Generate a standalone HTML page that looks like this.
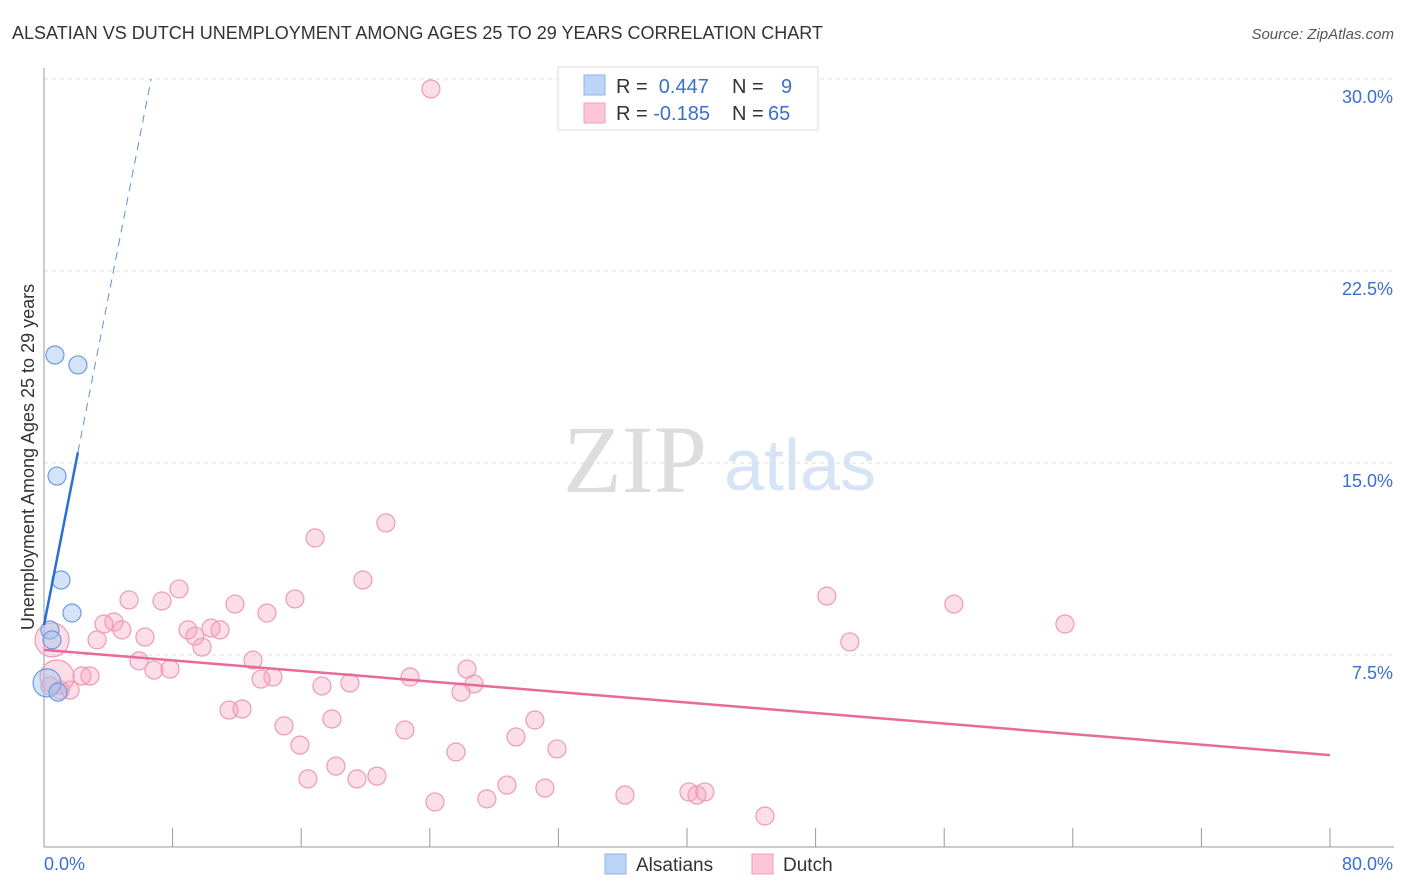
<!DOCTYPE html>
<html><head><meta charset="utf-8"><style>
body{margin:0;background:#fff;font-family:"Liberation Sans",sans-serif}
svg{display:block}
</style></head><body>
<svg id="c" width="1406" height="892" font-family="Liberation Sans, sans-serif">
<text x="12" y="39" font-size="18" fill="#333">ALSATIAN VS DUTCH UNEMPLOYMENT AMONG AGES 25 TO 29 YEARS CORRELATION CHART</text>
<text x="1394" y="39" font-size="15" fill="#555" font-style="italic" text-anchor="end">Source: ZipAtlas.com</text>
<text x="635" y="492" font-size="96" fill="#ddd" font-family="Liberation Serif, serif" text-anchor="middle">ZIP</text>
<text x="800" y="490" font-size="72" fill="#d6e4f5" text-anchor="middle">atlas</text>
<text transform="translate(34,457) rotate(-90)" font-size="18" fill="#333" text-anchor="middle">Unemployment Among Ages 25 to 29 years</text>
<g id="grid"></g><g id="axes"></g><g id="pts"></g><g id="lines"></g>
<g>
<rect x="558" y="67" width="260" height="63" fill="#fff" stroke="#ddd"/>
<rect x="584" y="75" width="21" height="20" fill="#bcd4f5" stroke="#8fb3ea"/>
<rect x="584" y="103" width="21" height="20" fill="#fcc6d6" stroke="#f0a0b8"/>
<text x="616" y="93" font-size="20" fill="#333">R = <tspan fill="#3a6fd1">&#160;0.447</tspan><tspan x="732">N = </tspan><tspan x="781" fill="#3a6fd1">9</tspan></text>
<text x="616" y="120" font-size="20" fill="#333">R = <tspan fill="#3a6fd1">-0.185</tspan><tspan x="732">N = </tspan><tspan x="768" fill="#3a6fd1">65</tspan></text>
</g>
<g>
<rect x="605" y="854" width="21" height="20" fill="#bcd4f5" stroke="#8fb3ea"/>
<text x="636" y="871" font-size="19" fill="#333">Alsatians</text>
<rect x="752" y="854" width="21" height="20" fill="#fcc6d6" stroke="#f0a0b8"/>
<text x="783" y="871" font-size="19" fill="#333">Dutch</text>
</g>
</svg>
<script>
const yTicks=[7.5,15,22.5,30];
const xTickLabels=["0.0%","80.0%"];
const alsX=[0.68,2.11,0.81,1.06,1.74,0.37,0.50,0.19,0.87];
const alsY=[19.22,18.83,14.49,10.43,9.14,8.48,8.09,6.41,6.05];
const alsR=[9,9,9,9,9,9,9,14,9];
const dutX=[24.07,21.27,16.86,19.84,8.40,5.29,7.34,15.61,11.88,13.87,48.70,56.60,63.51,50.13,4.35,3.73,4.85,8.96,6.28,3.30,9.39,10.39,10.95,9.83,13.00,5.91,6.84,7.84,26.31,22.77,14.24,13.50,2.36,2.86,26.75,17.29,19.03,25.94,1.62,1.00,0.37,11.51,12.32,17.91,30.54,14.93,22.45,15.92,29.36,25.63,31.91,18.16,20.71,16.42,19.47,28.80,31.16,24.32,27.55,36.14,40.12,40.62,41.11,44.85,0.81,0.5];
const dutY=[29.61,12.66,12.07,10.43,10.08,9.65,9.61,9.69,9.49,9.14,9.80,9.49,8.71,8.01,8.79,8.71,8.48,8.48,8.20,8.09,8.24,8.55,8.48,7.81,7.30,7.27,6.91,6.95,6.95,6.64,6.64,6.56,6.68,6.68,6.37,6.29,6.41,6.05,6.13,6.13,6.29,5.35,5.39,5.00,4.96,4.73,4.57,3.98,4.30,3.71,3.83,3.16,2.77,2.66,2.66,2.42,2.30,1.76,1.88,2.03,2.15,2.03,2.15,1.21,6.64,8.09];
const alsTrend=[8.67,3.2]; // intercept, slope
const dutTrend=[7.70,-0.0514];
const NS="http://www.w3.org/2000/svg";
const X=v=>44+v/80*1286, Y=v=>847-v/7.5*192;
function mk(p,t,a){const e=document.createElementNS(NS,t);for(const k in a)e.setAttribute(k,a[k]);document.getElementById(p).appendChild(e);return e;}
yTicks.forEach((t,i)=>{
 const g=mk('grid','line',{x1:44,x2:1394,y1:Y(t),y2:Y(t),stroke:'#ddd','stroke-dasharray':'4,4'});
 
 
 const l=mk('grid','text',{x:1393,y:Y(t)+24,'font-size':18,fill:'#3a6fd1','text-anchor':'end'});l.textContent=t.toFixed(1)+'%';
 
 
});
const ax=mk('axes','path',{d:'M44,68V847H1394',stroke:'#999',fill:'none'});


for(let v=8;v<=80;v+=8){const t=mk('axes','line',{x1:X(v),x2:X(v),y1:828,y2:847,stroke:'#999'});
 
 }
[[0,44,'start'],[1,1393,'end']].forEach(([i,x,a])=>{const t=mk('axes','text',{x:x,y:870,'font-size':18,fill:'#3a6fd1','text-anchor':a});t.textContent=xTickLabels[i];
 
 });
dutX.forEach((x,i)=>{const r=(i>=64)?17:9;const c=mk('pts','circle',{cx:X(x),cy:Y(dutY[i]),r:r,fill:'rgba(247,160,190,0.35)',stroke:'#ee9ab5','stroke-width':1.2});
 
 });
alsX.forEach((x,i)=>{const c=mk('pts','circle',{cx:X(x),cy:Y(alsY[i]),r:alsR[i],fill:'rgba(160,195,240,0.45)',stroke:'#6f9ae0','stroke-width':1.2});
 
 });
const ae=2.11, ad=(30-alsTrend[0])/alsTrend[1];
let l1=mk('lines','line',{x1:X(0),y1:Y(alsTrend[0]),x2:X(ae),y2:Y(alsTrend[0]+alsTrend[1]*ae),stroke:'#2a6fd6','stroke-width':2.5});


let l2=mk('lines','line',{x1:X(ae),y1:Y(alsTrend[0]+alsTrend[1]*ae),x2:X(ad),y2:Y(30),stroke:'#5d8fe0','stroke-width':1,'stroke-dasharray':'8,6'});


let l3=mk('lines','line',{x1:X(0),y1:Y(dutTrend[0]),x2:X(80),y2:Y(dutTrend[0]+dutTrend[1]*80),stroke:'#e86a9a','stroke-width':2.5});


</script>
</body></html>
